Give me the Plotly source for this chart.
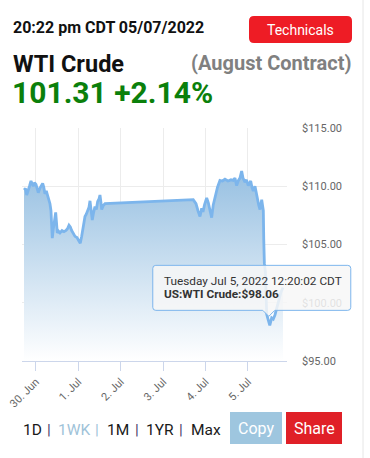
import plotly.graph_objects as go
import pandas as pd

# ---------------- data ----------------
times = [
    "2022-06-29 17:13", "2022-06-29 18:04", "2022-06-29 18:45", "2022-06-29 19:28", "2022-06-29 20:19",
    "2022-06-29 21:10", "2022-06-29 21:51", "2022-06-29 22:28", "2022-06-29 23:09", "2022-06-30 00:00",
    "2022-06-30 00:41", "2022-06-30 01:18", "2022-06-30 02:16", "2022-06-30 03:00", "2022-06-30 03:47",
    "2022-06-30 04:25", "2022-06-30 05:05", "2022-06-30 05:50", "2022-06-30 06:36", "2022-06-30 07:21",
    "2022-06-30 07:55", "2022-06-30 08:29", "2022-06-30 08:50", "2022-06-30 09:13", "2022-06-30 09:47",
    "2022-06-30 10:28", "2022-06-30 11:09", "2022-06-30 11:36", "2022-06-30 12:03", "2022-06-30 12:44",
    "2022-06-30 13:35", "2022-06-30 14:43", "2022-06-30 15:51", "2022-06-30 16:59", "2022-06-30 17:50",
    "2022-06-30 18:41", "2022-06-30 19:25", "2022-06-30 20:12", "2022-06-30 21:07", "2022-06-30 22:05",
    "2022-06-30 23:12", "2022-07-01 00:20", "2022-07-01 01:04", "2022-07-01 01:52", "2022-07-01 02:46",
    "2022-07-01 03:44", "2022-07-01 04:28", "2022-07-01 05:15", "2022-07-01 06:00", "2022-07-01 06:34",
    "2022-07-01 07:14", "2022-07-01 07:52", "2022-07-01 08:33", "2022-07-01 09:24", "2022-07-01 10:08",
    "2022-07-01 10:55", "2022-07-01 11:40", "2022-07-01 12:13", "2022-07-01 12:47", "2022-07-01 13:11",
    "2022-07-01 14:05", "2022-07-01 15:04",
    "2022-07-03 17:00", "2022-07-03 18:34", "2022-07-03 19:42", "2022-07-03 20:50", "2022-07-03 21:48",
    "2022-07-03 22:32", "2022-07-03 23:23", "2022-07-04 00:37", "2022-07-04 01:31", "2022-07-04 02:29",
    "2022-07-04 03:26", "2022-07-04 04:20", "2022-07-04 05:18", "2022-07-04 06:43", "2022-07-04 08:08",
    "2022-07-04 09:33", "2022-07-04 10:58", "2022-07-04 12:40", "2022-07-04 14:22", "2022-07-04 15:40",
    "2022-07-04 16:38", "2022-07-04 17:35", "2022-07-04 18:36", "2022-07-04 19:27", "2022-07-04 20:25",
    "2022-07-04 21:10", "2022-07-04 22:18", "2022-07-04 23:09", "2022-07-05 00:10", "2022-07-05 00:51",
    "2022-07-05 01:32", "2022-07-05 02:16", "2022-07-05 03:00", "2022-07-05 03:58", "2022-07-05 04:38",
    "2022-07-05 05:16", "2022-07-05 06:03", "2022-07-05 06:48", "2022-07-05 07:46", "2022-07-05 08:17",
    "2022-07-05 08:41", "2022-07-05 08:55", "2022-07-05 09:16", "2022-07-05 09:50", "2022-07-05 10:36",
    "2022-07-05 11:30", "2022-07-05 12:20", "2022-07-05 13:25", "2022-07-05 14:19", "2022-07-05 15:16",
    "2022-07-05 16:24", "2022-07-05 17:32", "2022-07-05 18:40", "2022-07-05 19:48",
]
prices = [
    109.68, 109.80, 109.25, 109.70, 110.00,
    110.45, 110.10, 110.00, 110.30, 110.15,
    109.80, 109.45, 109.85, 110.00, 110.25,
    109.90, 109.35, 109.60, 109.20, 108.80,
    108.50, 107.90, 106.60, 105.55, 106.30,
    107.00, 107.75, 106.90, 106.00, 106.15,
    106.00, 106.20, 106.10, 106.20, 106.35,
    106.65, 106.50, 106.20, 105.95, 105.70,
    105.60, 105.35, 105.10, 105.70, 106.60,
    107.40, 107.60, 107.95, 108.20, 108.75,
    107.90, 107.10, 107.70, 108.25, 108.00,
    108.70, 108.90, 109.25, 108.60, 108.00,
    108.35, 108.50,
    108.85, 108.50, 107.90, 107.40, 108.10,
    107.80, 108.40, 109.00, 108.60, 108.00,
    107.30, 108.40, 109.10, 109.90, 110.50,
    110.45, 110.60, 110.45, 110.55, 110.50,
    110.70, 110.05, 110.50, 110.70, 111.30,
    110.70, 110.35, 110.55, 110.05, 110.20,
    110.45, 109.90, 109.60, 110.00, 109.40,
    108.80, 108.40, 108.00, 108.85, 108.30,
    107.90, 105.50, 103.40, 102.70, 99.00,
    98.50, 98.06, 98.70, 98.60, 98.95,
    99.60, 100.40, 100.90, 101.31,
]
x_tick_vals = ["2022-06-30", "2022-07-01", "2022-07-02", "2022-07-03", "2022-07-04", "2022-07-05"]
x_tick_text = ["30. Jun", "1. Jul", "2. Jul", "3. Jul", "4. Jul", "5. Jul"]
y_tick_vals = [95, 100, 105, 110, 115]
y_tick_text = ["$95.00", "$100.00", "$105.00", "$110.00", "$115.00"]
x_range = ["2022-06-29 16:05", "2022-07-05 22:05"]
y_range = [95, 115]

tip_time = "2022-07-05 12:20"
tip_price = 98.06
tip_line1 = "Tuesday Jul 5, 2022 12:20:02 CDT"
tip_line2 = "US:WTI Crude:$98.06"

stamp_text = "20:22 pm CDT 05/07/2022"
name_text = "WTI Crude"
contract_text = "(August Contract)"
quote_text = "101.31 +2.14%"
range_buttons = ["1D", "1WK", "1M", "1YR", "Max"]

# ---------------- layout helpers ----------------
W, H = 370, 458
L, R, T, B = 22, 287, 128, 361
FONT = "Roboto, sans-serif"


def px(x):
    return (x - L) / (R - L)


def py(y):
    return (B - y) / (B - T)


def rrect(x0, y0, x1, y1, r):
    X = px
    Y = py
    return (f"M {X(x0 + r)},{Y(y0)} L {X(x1 - r)},{Y(y0)} Q {X(x1)},{Y(y0)} {X(x1)},{Y(y0 + r)} "
            f"L {X(x1)},{Y(y1 - r)} Q {X(x1)},{Y(y1)} {X(x1 - r)},{Y(y1)} "
            f"L {X(x0 + r)},{Y(y1)} Q {X(x0)},{Y(y1)} {X(x0)},{Y(y1 - r)} "
            f"L {X(x0)},{Y(y0 + r)} Q {X(x0)},{Y(y0)} {X(x0 + r)},{Y(y0)} Z")


# paper position of the hovered point (so the tooltip is not clipped to the plot area)
_t0, _t1 = pd.Timestamp(x_range[0]), pd.Timestamp(x_range[1])
tip_xp = (pd.Timestamp(tip_time) - _t0) / (_t1 - _t0)
tip_yp = (tip_price - y_range[0]) / (y_range[1] - y_range[0])

fig = go.Figure()
fig.add_trace(go.Scatter(
    x=times, y=prices, mode="lines",
    line=dict(color="#7cb5ec", width=2.8),
    fill="tozeroy",
    fillgradient=dict(type="vertical",
                      colorscale=[[0, "rgba(255,255,255,1)"], [1, "#9cc3e3"]],
                      start=95, stop=110.5),
    hoverinfo="skip", showlegend=False,
))

shapes = []
# right page border
shapes.append(dict(type="line", xref="paper", yref="paper", x0=px(363), x1=px(363),
                   y0=py(458), y1=py(0), line=dict(color="#e6e6e6", width=1), layer="above"))
# Technicals button
shapes.append(dict(type="path", xref="paper", yref="paper", path=rrect(249, 16, 352, 43, 5),
                   fillcolor="#ee1c25", line=dict(width=0), layer="above"))
# Copy / Share buttons
shapes.append(dict(type="rect", xref="paper", yref="paper", x0=px(230), x1=px(282), y0=py(444), y1=py(412),
                   fillcolor="#9ec6df", line=dict(width=0), layer="above"))
shapes.append(dict(type="rect", xref="paper", yref="paper", x0=px(286), x1=px(342), y0=py(444), y1=py(412),
                   fillcolor="#e02027", line=dict(width=0), layer="above"))
# tooltip box (pixel offsets relative to hovered point)
tip_path = ("M -114,60 L 78,60 Q 81,60 81,57 L 81,18 Q 81,15 78,15 L 5,15 L -1,9 L -7,15 "
            "L -114,15 Q -117,15 -117,18 L -117,57 Q -117,60 -114,60 Z")
shapes.append(dict(type="path", xref="paper", yref="paper", xsizemode="pixel", ysizemode="pixel",
                   xanchor=tip_xp, yanchor=tip_yp, path=tip_path,
                   fillcolor="rgba(247,247,247,0.85)", line=dict(color="#7cb5ec", width=1), layer="above"))

ann = []
ann.append(dict(text=f"<b>{stamp_text}</b>", xref="paper", yref="paper", x=px(11), y=py(27.5),
                xanchor="left", yanchor="middle", showarrow=False, font=dict(family=FONT, size=16, color="#111")))
ann.append(dict(text=f"<b>{name_text}</b>", xref="paper", yref="paper", x=px(11), y=py(63.5),
                xanchor="left", yanchor="middle", showarrow=False, font=dict(family=FONT, size=23.5, color="#111")))
ann.append(dict(text=f"<b>{contract_text}</b>", xref="paper", yref="paper", x=px(353), y=py(62.5),
                xanchor="right", yanchor="middle", showarrow=False, font=dict(family=FONT, size=20, color="#808080")))
ann.append(dict(text=f"<b>{quote_text}</b>", xref="paper", yref="paper", x=px(10), y=py(92),
                xanchor="left", yanchor="middle", showarrow=False, font=dict(family=FONT, size=30, color="#0b800b")))
ann.append(dict(text="Technicals", xref="paper", yref="paper", x=px(300.5), y=py(29.5),
                xanchor="center", yanchor="middle", showarrow=False, font=dict(family=FONT, size=14, color="white")))
ann.append(dict(text="Copy", xref="paper", yref="paper", x=px(256), y=py(428.5),
                xanchor="center", yanchor="middle", showarrow=False, font=dict(family=FONT, size=16, color="white")))
ann.append(dict(text="Share", xref="paper", yref="paper", x=px(314), y=py(428.5),
                xanchor="center", yanchor="middle", showarrow=False, font=dict(family=FONT, size=16, color="white")))

# range selector row
btn_x = [21, 56, 105, 144, 188.5]
pipe_x = [49, 96.7, 136.7, 181]
for i, lab in enumerate(range_buttons):
    col = "#9fc3d9" if lab == "1WK" else "#1a1a1a"
    ann.append(dict(text=lab, xref="paper", yref="paper", x=px(btn_x[i]), y=py(430),
                    xanchor="left", yanchor="middle", showarrow=False, font=dict(family=FONT, size=15.5, color=col)))
for i, xx in enumerate(pipe_x):
    col = "#9fc3d9" if i == 1 else "#4a3a6a"
    ann.append(dict(text="|", xref="paper", yref="paper", x=px(xx), y=py(430),
                    xanchor="center", yanchor="middle", showarrow=False, font=dict(family=FONT, size=15.5, color=col)))

# tooltip text
ann.append(dict(text=tip_line1, xref="paper", yref="paper", x=tip_xp, y=tip_yp, xanchor="left", yanchor="middle",
                xshift=-108, yshift=44.5, showarrow=False, font=dict(family=FONT, size=11.8, color="#333")))
ann.append(dict(text=f"<b>{tip_line2}</b>", xref="paper", yref="paper", x=tip_xp, y=tip_yp, xanchor="left",
                yanchor="middle", xshift=-108, yshift=31, showarrow=False, font=dict(family=FONT, size=11.8, color="#333")))

fig.update_layout(
    width=W, height=H,
    margin=dict(l=L, r=W - R, t=T, b=H - B, pad=0, autoexpand=False),
    paper_bgcolor="white", plot_bgcolor="white",
    font=dict(family=FONT, color="#666"),
    shapes=shapes, annotations=ann,
    xaxis=dict(type="date", range=x_range, tickvals=x_tick_vals, ticktext=x_tick_text, tickangle=-45,
               showgrid=True, gridcolor="#ececec", gridwidth=1, automargin=False,
               ticks="outside", ticklen=9, tickcolor="#ccd6eb", tickwidth=1,
               showline=True, linecolor="#ccd6eb", linewidth=1,
               tickfont=dict(family=FONT, size=11, color="#666"), zeroline=False, fixedrange=True),
    yaxis=dict(range=y_range, side="right", tickvals=y_tick_vals, ticktext=y_tick_text,
               showgrid=True, gridcolor="#ececec", gridwidth=1, zeroline=False, automargin=False,
               ticks="", ticklabelstandoff=14, showline=False,
               tickfont=dict(family=FONT, size=11, color="#666"), fixedrange=True),
    hovermode=False,
)

fig.write_html("out.html", config={"displayModeBar": False})
